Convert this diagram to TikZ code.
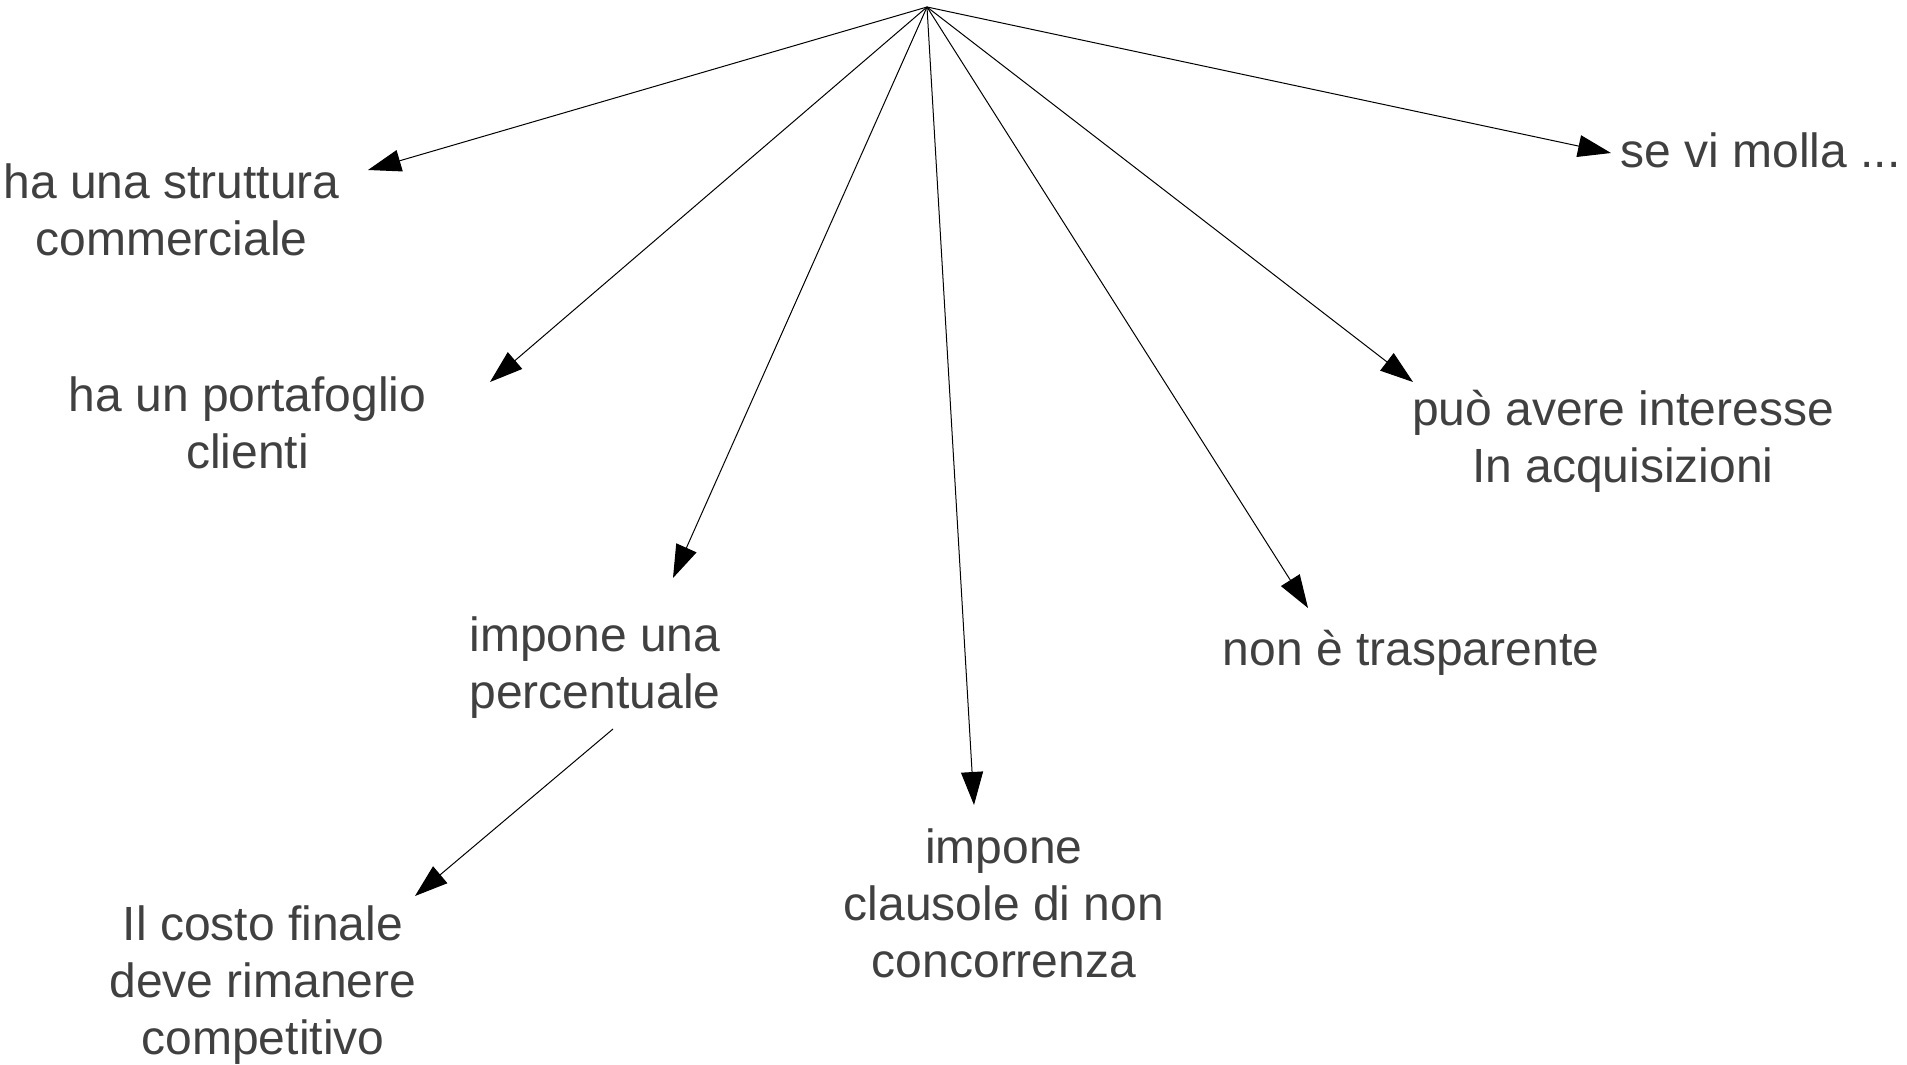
\documentclass[tikz,border=0pt]{standalone}
\usepackage{fontspec}
\setmainfont{Liberation Sans}
\usetikzlibrary{arrows.meta}
\definecolor{labelgray}{RGB}{64,64,64}

\tikzset{
  lbl/.style={align=center, inner sep=0pt, anchor=base, text=labelgray,
    font=\fontsize{24pt}{28.5pt}\selectfont},
  arr/.style={-{Triangle[length=16.5pt,width=11pt]}, line width=0.5pt, black}
}

\begin{document}
\begin{tikzpicture}[x=0.5pt,y=-0.5pt]
\useasboundingbox (0,0) rectangle (1907,1065);

% centre point all arrows start from
\coordinate (hub) at (927,7);

% nodes sit on the baseline of their last line
\node[lbl] (strut) at (171.5,256) {ha una struttura\\commerciale};
\node[lbl] (portaf) at (247.5,468) {ha un portafoglio\\clienti};
\node[lbl] (percent) at (595,708) {impone una\\percentuale};
\node[lbl] (costo) at (263,1054) {Il costo finale\\deve rimanere\\competitivo};
\node[lbl] (clausole) at (1004,977) {impone\\clausole di non\\concorrenza};
\node[lbl] (traspar) at (1411,665) {non è trasparente};
\node[lbl] (acquis) at (1623,482) {può avere interesse\\In acquisizioni};
\node[lbl,anchor=base west] (molla) at (1620,168) {se vi molla ...};

\draw[arr] (hub) -- ([shift={(196.5,-86)}]strut.base);
\draw[arr] (hub) -- ([shift={(242.5,-86)}]portaf.base);
\draw[arr] (hub) -- ([shift={(78,-130)}]percent.base);
\draw[arr] (hub) -- ([shift={(-30,-172)}]clausole.base);
\draw[arr] (hub) -- ([shift={(-103,-57)}]traspar.base);
\draw[arr] (hub) -- ([shift={(-210,-100)}]acquis.base);
\draw[arr] (hub) -- ([shift={(-9,-15)}]molla.base west);
\draw[arr] ([shift={(18,21)}]percent.base) -- ([shift={(152,-158)}]costo.base);

\end{tikzpicture}
\end{document}
